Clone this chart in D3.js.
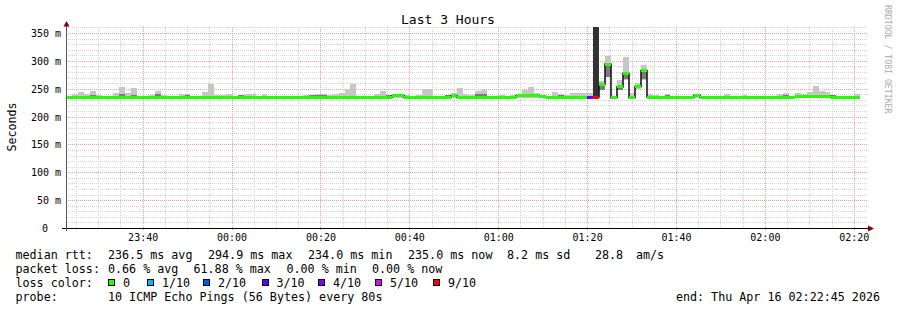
<!DOCTYPE html>
<html>
<head>
<meta charset="utf-8">
<script src="https://cdn.jsdelivr.net/npm/d3@7"></script>
<style>
  body { margin: 0; background: #fff; }
  svg { display: block; font-family: "DejaVu Sans Mono", monospace; }
</style>
</head>
<body>
<svg id="chart"></svg>
<script>
// ---- Data: one SmokePing step every 80 s ----
const stepSeconds = 80;
const startTime = new Date(2026, 3, 15, 23, 22, 45);
const endTime = new Date(2026, 3, 16, 2, 22, 45);
const yMax = 361;

// median rtt per step (ms)
const medians = [
  235, 235, 235, 235, 235, 235, 235, 235, 235, 235,
  235, 235, 235, 235, 235, 235, 235, 235, 235, 235,
  235, 235, 235, 235, 235, 235, 235, 235, 235, 235,
  235, 235, 235, 235, 235, 235, 235, 235, 235, 235,
  235, 235, 235, 235, 235, 235, 235, 235, 235, 235,
  235, 235, 235, 235, 235, 237, 237, 235, 235, 235,
  235, 235, 235, 235, 235, 237, 235, 235, 235, 235,
  235, 235, 235, 235, 235, 235, 237, 237, 237, 237,
  236, 235, 235, 235, 235, 235, 235, 235, 235, 235,
  258, 294, 234, 253, 277, 234, 254, 282, 235, 235,
  235, 235, 235, 235, 235, 235, 238, 235, 235, 235,
  235, 235, 235, 235, 235, 235, 235, 235, 235, 235,
  235, 235, 235, 236, 236, 236, 236, 236, 236, 235,
  235, 235, 235, 235
];

// lost pings out of 10 per step
const lossTenths = [
  0, 0, 0, 0, 0, 0, 0, 0, 0, 0,  0, 0, 0, 0, 0, 0, 0, 0, 0, 0,
  0, 0, 0, 0, 0, 0, 0, 0, 0, 0,  0, 0, 0, 0, 0, 0, 0, 0, 0, 0,
  0, 0, 0, 0, 0, 0, 0, 0, 0, 0,  0, 0, 0, 0, 0, 0, 0, 0, 0, 0,
  0, 0, 0, 0, 0, 0, 0, 0, 0, 0,  0, 0, 0, 0, 0, 0, 0, 0, 0, 0,
  0, 0, 0, 0, 0, 0, 0, 0, 3, 9,  0, 0, 0, 0, 0, 0, 0, 0, 0, 0,
  0, 0, 0, 0, 0, 0, 0, 0, 0, 0,  0, 0, 0, 0, 0, 0, 0, 0, 0, 0,
  0, 0, 0, 0, 0, 0, 0, 0, 0, 0,  0, 0, 0, 0
];

// smoke (ping spread) lower / upper edge per step (ms)
const smokeLo = [
  234, 234, 234, 234, 234, 234, 234, 234, 234, 234,
  234, 234, 234, 234, 234, 234, 234, 234, 234, 234,
  234, 234, 234, 234, 234, 234, 234, 234, 234, 234,
  234, 234, 234, 234, 234, 234, 234, 234, 234, 234,
  234, 234, 234, 234, 234, 234, 234, 234, 234, 234,
  234, 234, 234, 234, 234, 234, 234, 234, 234, 234,
  234, 234, 234, 234, 234, 234, 234, 234, 234, 234,
  234, 234, 234, 234, 234, 234, 234, 234, 234, 234,
  233, 234, 234, 234, 234, 234, 234, 234, 234, 235,
  248, 271, 234, 247, 266, 234, 249, 266, 234, 234,
  234, 234, 234, 234, 234, 234, 233, 234, 234, 234,
  234, 234, 234, 234, 234, 234, 234, 234, 234, 234,
  234, 234, 234, 234, 234, 234, 234, 234, 234, 234,
  234, 234, 234, 234
];
const smokeHi = [
  236, 240.5, 244, 240.5, 246, 238.7, 236, 236, 242.3, 253,
  242.3, 251.3, 236, 236, 238.7, 246, 238.7, 236, 237, 240.5,
  240.5, 236, 236, 244, 258.4, 238.7, 238.7, 240.5, 237, 238.7,
  240.5, 240.5, 237, 240.5, 237, 237, 236, 236, 236, 237,
  238.7, 238.7, 240.5, 240.5, 238.7, 240.5, 242.3, 249.5, 258.4, 236,
  236, 236, 240.5, 246, 238.7, 238, 238, 238.7, 236, 238.7,
  249.5, 249.5, 236, 237, 238.7, 242.3, 251.3, 240.5, 238.7, 246,
  247.7, 236, 236, 238.7, 236, 238.7, 240.5, 247.7, 253, 242.3,
  237, 236, 244, 240.5, 238.7, 242.3, 242.3, 242, 242, 361,
  263, 309, 236, 266, 307, 242, 260, 292, 240.5, 238.7,
  237, 240.5, 236, 236, 236, 236, 239, 236, 236, 236,
  236, 240.5, 236, 236, 238.7, 236, 237, 236, 236, 236,
  240.5, 242.3, 237, 242.3, 240.5, 244, 254.8, 246, 244, 238.7,
  237, 236, 236, 240.5
];

// darker core of the smoke (steps where it shows)
const coreSteps = [4, 9, 11, 15, 20, 29, 41, 42, 43, 54, 63, 64, 69, 70, 83, 89, 90, 91, 93, 94, 97, 101, 121, 129];
const coreLo =    [235, 236, 236, 236, 236, 236, 236, 236, 236, 236, 236, 236, 236, 236, 236, 235, 248, 271, 247, 267, 267, 236, 236, 236];
const coreHi =    [238.5, 240.5, 238.5, 240, 238, 238, 238.7, 238.7, 238.7, 238, 237, 238, 240, 240, 238.5, 361, 257, 291, 252, 276, 280, 239, 239, 238];

// legend
const medianStats = ["236.5 ms avg", "294.9 ms max", "234.0 ms min", "235.0 ms now", "8.2 ms sd", "28.8", "am/s"];
const lossStats = ["0.66 % avg", "61.88 % max", "0.00 % min", "0.00 % now"];
const lossKeys = [0, 1, 2, 3, 4, 5, 9];
const lossKeyLabels = ["0", "1/10", "2/10", "3/10", "4/10", "5/10", "9/10"];
const lossColors = ["#26ff00", "#00b8ff", "#0059ff", "#5e00ff", "#7e00ff", "#dd00ff", "#ff0000"];
const probeText = "10 ICMP Echo Pings (56 Bytes) every 80s";
const endText = "end: Thu Apr 16 02:22:45 2026";

// ---- Layout ----
const svgWidth = 897, svgHeight = 310;
const plotLeft = 66, plotRight = 866, plotTop = 26.8, plotBottom = 228;

const svg = d3.select("#chart").attr("width", svgWidth).attr("height", svgHeight);
svg.append("rect").attr("width", svgWidth).attr("height", svgHeight).attr("fill", "#fff");

const x = d3.scaleTime().domain([startTime, endTime]).range([plotLeft, plotRight]);
const y = d3.scaleLinear().domain([0, yMax]).range([plotBottom, plotTop]);
const crisp = v => Math.round(v) + 0.5;

// grid
const grid = svg.append("g").attr("shape-rendering", "crispEdges").attr("stroke-dasharray", "1,1");
const yMinor = d3.range(10, yMax, 10).filter(v => v % 50 !== 0);
const yMajor = d3.range(50, yMax, 50);
const xMinor = d3.timeMinute.every(5).range(startTime, endTime).filter(d => d.getMinutes() % 20 !== 0);
const xMajor = x.ticks(d3.timeMinute.every(20));

grid.selectAll(".hmin").data(yMinor).join("line")
  .attr("x1", plotLeft).attr("x2", plotRight + 1)
  .attr("y1", d => crisp(y(d))).attr("y2", d => crisp(y(d)))
  .attr("stroke", "#d2d2d2");
grid.selectAll(".vmin").data(xMinor).join("line")
  .attr("x1", d => crisp(x(d))).attr("x2", d => crisp(x(d)))
  .attr("y1", plotTop).attr("y2", plotBottom)
  .attr("stroke", "#d2d2d2");
grid.selectAll(".hmaj").data(yMajor).join("line")
  .attr("x1", plotLeft).attr("x2", plotRight + 1)
  .attr("y1", d => crisp(y(d))).attr("y2", d => crisp(y(d)))
  .attr("stroke", "#eba0a0");
grid.selectAll(".vmaj").data(xMajor).join("line")
  .attr("x1", d => crisp(x(d))).attr("x2", d => crisp(x(d)))
  .attr("y1", plotTop).attr("y2", plotBottom + 3)
  .attr("stroke", "#eba0a0");

// steps
const stepStart = i => new Date(startTime.getTime() + i * stepSeconds * 1000);
const steps = medians.map((m, i) => ({
  x0: Math.round(x(stepStart(i))),
  x1: Math.round(x(stepStart(i + 1))),
  median: m,
  loss: lossTenths[i],
  lo: smokeLo[i],
  hi: smokeHi[i]
}));
const cores = coreSteps.map((s, k) => ({ step: steps[s], lo: coreLo[k], hi: coreHi[k] }));

// smoke
const smoke = svg.append("g").attr("shape-rendering", "crispEdges");
smoke.selectAll(".smoke").data(steps.filter(d => d.hi > d.lo)).join("rect")
  .attr("x", d => d.x0).attr("width", d => d.x1 - d.x0)
  .attr("y", d => Math.round(y(d.hi))).attr("height", d => Math.round(y(d.lo)) - Math.round(y(d.hi)))
  .attr("fill", "#c6c6c6");
smoke.selectAll(".core").data(cores).join("rect")
  .attr("x", d => d.step.x0).attr("width", d => d.step.x1 - d.step.x0)
  .attr("y", d => Math.round(y(d.hi))).attr("height", d => Math.round(y(d.lo)) - Math.round(y(d.hi)))
  .attr("fill", d => d.step.loss >= 9 ? "#333333" : "#7c7c7c");

// median step line
const linePts = steps.map(d => [d.x0, y(d.median)]);
linePts.push([steps[steps.length - 1].x1, y(medians[medians.length - 1])]);
svg.append("path")
  .attr("d", d3.line().curve(d3.curveStepAfter)(linePts))
  .attr("fill", "none").attr("stroke", "#1a1a1a").attr("stroke-width", 1.6);

// loss-coloured median bars, on top of the line
const lossColor = l => lossColors[lossKeys.indexOf(l)];
svg.append("g").attr("shape-rendering", "crispEdges")
  .selectAll("rect").data(steps).join("rect")
  .attr("x", d => d.x0).attr("width", d => d.x1 - d.x0)
  .attr("y", d => y(d.median) - 1.5).attr("height", 3)
  .attr("fill", d => lossColor(d.loss));

// axes
svg.append("line").attr("x1", 62).attr("x2", 868).attr("y1", plotBottom + 0.5).attr("y2", plotBottom + 0.5)
  .attr("stroke", "#000").attr("shape-rendering", "crispEdges");
svg.append("line").attr("x1", plotLeft + 0.5).attr("x2", plotLeft + 0.5).attr("y1", plotBottom + 3).attr("y2", 26)
  .attr("stroke", "#555").attr("shape-rendering", "crispEdges");
svg.append("path").attr("d", "M868,225.5L874,228.5L868,231.5Z").attr("fill", "#800000");
svg.append("path").attr("d", "M63.5,26.5L66.5,21L69.5,26.5Z").attr("fill", "#800000");

// tick labels
const yLabels = svg.append("g").attr("font-size", "10px").attr("fill", "#000");
yLabels.selectAll("text").data([0].concat(yMajor)).join("text")
  .attr("x", d => d === 0 ? 48 : 61)
  .attr("y", d => Math.round(y(d)) + 4)
  .attr("text-anchor", "end")
  .text(d => d === 0 ? "0" : d + " m");

const fmt = d3.timeFormat("%H:%M");
svg.append("g").attr("font-size", "10px").selectAll("text").data(xMajor).join("text")
  .attr("x", d => x(d) + 0.5).attr("y", 241)
  .attr("text-anchor", "middle")
  .text(d => fmt(d));

// title and side labels
svg.append("text").attr("x", 448).attr("y", 24).attr("text-anchor", "middle")
  .attr("font-size", "13px").text("Last 3 Hours");
svg.append("text").attr("transform", "translate(16,127) rotate(-90)").attr("text-anchor", "middle")
  .attr("font-size", "11.6px").text("Seconds");
svg.append("text").attr("transform", "translate(884.5,5) rotate(90)")
  .attr("font-size", "8.2px").attr("fill", "#aaaaaa").text("RRDTOOL / TOBI OETIKER");

// legend
const legend = svg.append("g").attr("font-size", "11.7px").attr("fill", "#000");
const putText = (px, row, txt) => legend.append("text").attr("x", px).attr("y", row).text(txt);

putText(15.5, 258.5, "median rtt:");
[108, 208, 308, 408, 507, 595, 636].forEach((px, i) => putText(px, 258.5, medianStats[i]));
putText(15.5, 272.5, "packet loss:");
[108, 193.5, 286.5, 372].forEach((px, i) => putText(px, 272.5, lossStats[i]));
putText(15.5, 286.5, "loss color:");
const swatchX = [108, 147, 203, 261.5, 318, 375, 433];
lossKeys.forEach((k, i) => {
  legend.append("rect").attr("x", swatchX[i] + 0.5).attr("y", 279.5).attr("width", 6).attr("height", 6)
    .attr("fill", lossColors[i]).attr("stroke", "#000").attr("shape-rendering", "crispEdges");
  legend.append("text").attr("x", swatchX[i] + 15).attr("y", 286.5).text(lossKeyLabels[i]);
});
putText(15.5, 300.5, "probe:");
putText(108, 300.5, probeText);
legend.append("text").attr("x", 880).attr("y", 300.5).attr("text-anchor", "end").text(endText);
</script>
</body>
</html>
